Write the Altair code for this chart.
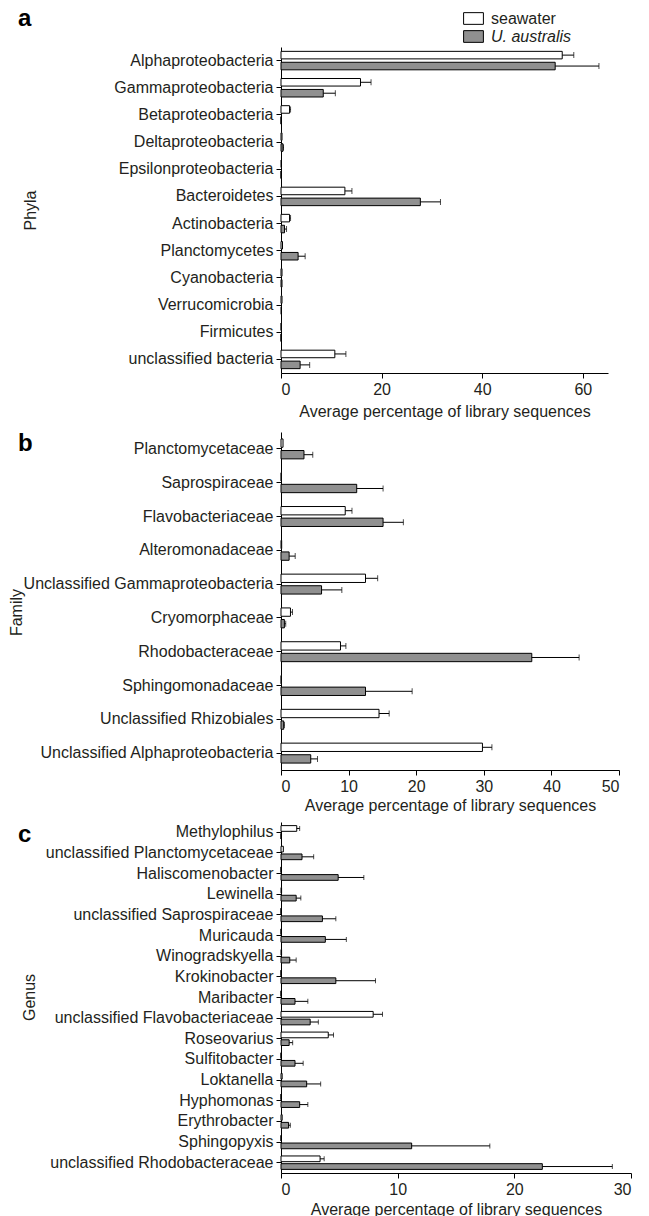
import altair as alt
import pandas as pd

groups = ["seawater", "U. australis"]

phyla = ["Alphaproteobacteria", "Gammaproteobacteria", "Betaproteobacteria",
         "Deltaproteobacteria", "Epsilonproteobacteria", "Bacteroidetes",
         "Actinobacteria", "Planctomycetes", "Cyanobacteria", "Verrucomicrobia",
         "Firmicutes", "unclassified bacteria"]
sw_a = [55.9, 15.8, 1.7, 0.2, 0.1, 12.7, 1.7, 0.3, 0.2, 0.2, 0.05, 10.7]
sw_a_err = [2.3, 2.1, 0.2, 0.0, 0.0, 1.4, 0.2, 0.0, 0.0, 0.0, 0.0, 2.2]
ua_a = [54.5, 8.4, 0.0, 0.4, 0.0, 27.7, 0.7, 3.4, 0.2, 0.1, 0.0, 3.8]
ua_a_err = [8.7, 2.4, 0.0, 0.1, 0.0, 4.0, 0.4, 1.4, 0.0, 0.0, 0.0, 1.9]

family = ["Planctomycetaceae", "Saprospiraceae", "Flavobacteriaceae",
          "Alteromonadaceae", "Unclassified Gammaproteobacteria", "Cryomorphaceae",
          "Rhodobacteraceae", "Sphingomonadaceae", "Unclassified Rhizobiales",
          "Unclassified Alphaproteobacteria"]
sw_b = [0.3, 0.05, 9.5, 0.1, 12.5, 1.4, 8.8, 0.05, 14.5, 29.8]
sw_b_err = [0.0, 0.0, 1.0, 0.0, 1.8, 0.3, 0.8, 0.0, 1.5, 1.4]
ua_b = [3.4, 11.2, 15.1, 1.2, 6.0, 0.5, 37.1, 12.5, 0.4, 4.4]
ua_b_err = [1.3, 3.9, 3.0, 0.9, 3.0, 0.2, 7.0, 6.9, 0.1, 1.0]

genus = ["Methylophilus", "unclassified Planctomycetaceae", "Haliscomenobacter",
         "Lewinella", "unclassified Saprospiraceae", "Muricauda", "Winogradskyella",
         "Krokinobacter", "Maribacter", "unclassified Flavobacteriaceae", "Roseovarius",
         "Sulfitobacter", "Loktanella", "Hyphomonas", "Erythrobacter", "Sphingopyxis",
         "unclassified Rhodobacteraceae"]
sw_c = [1.35, 0.2, 0.0, 0.05, 0.0, 0.0, 0.05, 0.0, 0.0, 7.9, 4.05, 0.0, 0.1, 0.0, 0.1, 0.0, 3.35]
sw_c_err = [0.25, 0.0, 0.0, 0.0, 0.0, 0.0, 0.0, 0.0, 0.0, 0.8, 0.45, 0.0, 0.0, 0.0, 0.0, 0.0, 0.35]
ua_c = [0.0, 1.8, 4.9, 1.3, 3.55, 3.8, 0.75, 4.7, 1.2, 2.5, 0.7, 1.2, 2.2, 1.6, 0.65, 11.2, 22.4]
ua_c_err = [0.0, 1.0, 2.2, 0.4, 1.15, 1.8, 0.55, 3.4, 1.1, 0.7, 0.3, 0.7, 1.2, 0.7, 0.15, 6.7, 6.0]

FONT = "Liberation Sans"
INK = "#231f20"
GREY = "#909090"


def make_df(cats, sw, swe, ua, uae):
    rows = []
    for i, c in enumerate(cats):
        rows.append({"name": c, "group": groups[0], "value": sw[i], "err": swe[i],
                     "hi": sw[i] + swe[i]})
        rows.append({"name": c, "group": groups[1], "value": ua[i], "err": uae[i],
                     "hi": ua[i] + uae[i]})
    return pd.DataFrame(rows)


def panel(cats, sw, swe, ua, uae, xmax, ticks, width, height, pin, opin,
          ytitle, ytitle_x, ytitle_y, letter, letter_y, legend, xtitle_pad, cap):
    df = make_df(cats, sw, swe, ua, uae)
    y = alt.Y("name:N", sort=cats,
              scale=alt.Scale(paddingInner=pin, paddingOuter=pin / 2),
              axis=alt.Axis(title=ytitle, titleX=ytitle_x, titleY=ytitle_y,
                            titleAngle=-90, titleBaseline="middle",
                            titleFont=FONT, titleFontSize=16, titleFontWeight="normal",
                            titleColor=INK, labelFont=FONT, labelFontSize=16,
                            labelColor=INK, labelLimit=400, labelPadding=3,
                            tickSize=5, tickColor="black", domainColor="black",
                            grid=False))
    yoff = alt.YOffset("group:N", sort=groups,
                       scale=alt.Scale(domain=groups, paddingInner=opin, paddingOuter=0))
    x = alt.X("value:Q",
              scale=alt.Scale(domain=[0, xmax], nice=False, zero=True),
              axis=alt.Axis(title="Average percentage of library sequences",
                            values=ticks, format="d", titleFont=FONT, titleFontSize=16,
                            titleFontWeight="normal", titleColor=INK,
                            titlePadding=xtitle_pad, labelFont=FONT, labelFontSize=16,
                            labelColor=INK, tickSize=5, tickColor="black",
                            domainColor="black", grid=False, labelPadding=3))
    if legend:
        leg = alt.Legend(title=None, orient="none", legendX=183, legendY=-38,
                         symbolType="M-1.1,-0.65H1.1V0.65H-1.1Z", symbolSize=324,
                         symbolStrokeColor="black", symbolStrokeWidth=1,
                         symbolOpacity=1, labelFont=FONT, labelFontSize=16,
                         labelColor=INK, labelOffset=8, rowPadding=0, padding=0,
                         labelFontStyle=alt.ExprRef(
                             "datum.label == 'U. australis' ? 'italic' : 'normal'"))
    else:
        leg = None
    color = alt.Color("group:N", scale=alt.Scale(domain=groups, range=["white", GREY]),
                      legend=leg)
    base = alt.Chart(df)
    bars = base.mark_bar(stroke="black", strokeWidth=1, opacity=1).encode(
        y=y, yOffset=yoff, x=x, color=color)
    errs = base.transform_filter("datum.err > 0").mark_rule(
        color="black", strokeWidth=1).encode(
        y=alt.Y("name:N", sort=cats), yOffset=yoff, x="value:Q", x2="hi:Q")
    caps = base.transform_filter("datum.err > 0").mark_tick(
        color="black", thickness=1, size=cap).encode(
        y=alt.Y("name:N", sort=cats), yOffset=yoff, x="hi:Q")
    lab = alt.Chart(pd.DataFrame({"t": [letter]})).mark_text(
        font=FONT, fontSize=24, fontWeight="bold", color="black",
        align="left", baseline="top").encode(
        text="t:N", x=alt.value(-263), y=alt.value(letter_y))
    return alt.layer(bars, errs, caps, lab).properties(width=width, height=height)


pa = panel(phyla, sw_a, sw_a_err, ua_a, ua_a_err, 65, [0, 20, 40, 60], 327, 326,
           0.32, 0.31, "Phyla", -251, 163, "a", -40, True, 6, 6)
pb = panel(family, sw_b, sw_b_err, ua_b, ua_b_err, 50, [0, 10, 20, 30, 40, 50], 338, 338,
           0.41, 0.28, "Family", -265, 180, "b", 0, False, 3, 6)
pc = panel(genus, sw_c, sw_c_err, ua_c, ua_c_err, 30, [0, 10, 20, 30], 350, 351,
           0.35, 0.26, "Genus", -252, 175, "c", 1, False, 4, 5)

top = alt.vconcat(pa, pb, spacing=13).resolve_scale(
    color="independent", y="independent", yOffset="independent", x="independent")

chart = alt.vconcat(top, pc, spacing=9).resolve_scale(
    color="independent", y="independent", yOffset="independent", x="independent"
).properties(
    padding={"left": 8, "top": 7, "right": 0, "bottom": 0}
).configure(background="white").configure_view(stroke=None, strokeWidth=0)

chart.save("out.html", embed_options={"renderer": "svg", "actions": False})
